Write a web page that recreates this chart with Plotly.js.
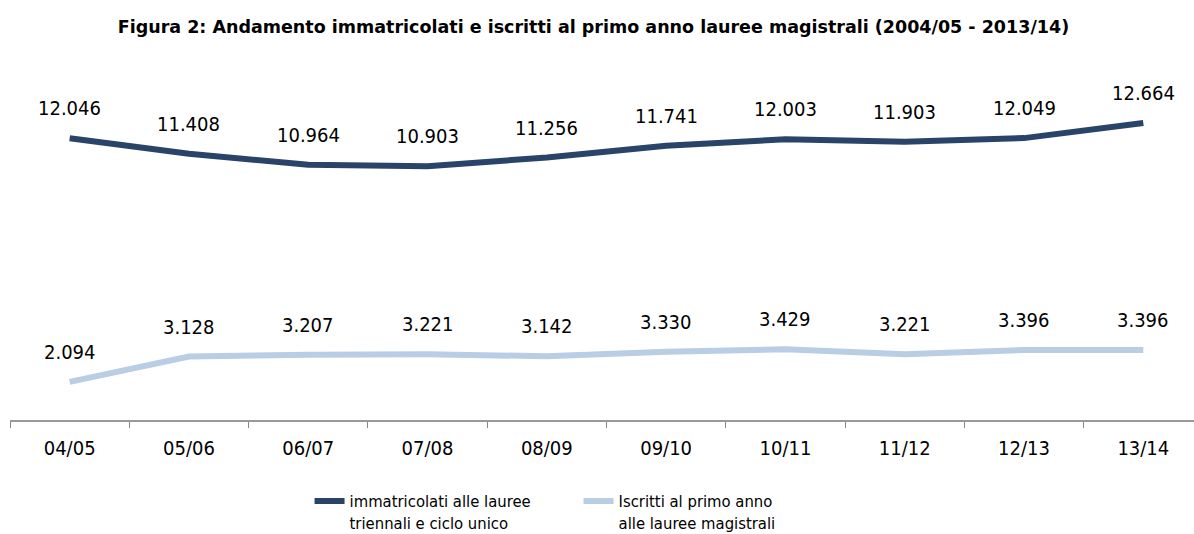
<!DOCTYPE html>
<html>
<head>
<meta charset="utf-8">
<script src="https://cdn.plot.ly/plotly-3.0.1.min.js"></script>
<style>html,body{margin:0;padding:0;background:#fff;}#chart{width:1194px;height:534px;}</style>
</head>
<body>
<div id="chart"></div>
<script>
var categories = ["04/05","05/06","06/07","07/08","08/09","09/10","10/11","11/12","12/13","13/14"];
var immatricolati = [12046,11408,10964,10903,11256,11741,12003,11903,12049,12664];
var iscritti = [2094,3128,3207,3221,3142,3330,3429,3221,3396,3396];
var seriesNames = ["immatricolati alle lauree<br>triennali e ciclo unico","Iscritti al primo anno<br>alle lauree magistrali"];
var titleText = "Figura 2: Andamento immatricolati e iscritti al primo anno lauree magistrali (2004/05 - 2013/14)";

var FONT = "DejaVu Sans Condensed, DejaVu Sans, sans-serif";
function fmt(v){ return String(v).replace(/\B(?=(\d{3})+(?!\d))/g, "."); }

var traces = [
  {x: categories, y: immatricolati, type: "scatter", mode: "lines", name: seriesNames[0],
   line: {color: "#294468", width: 6}},
  {x: categories, y: iscritti, type: "scatter", mode: "lines", name: seriesNames[1],
   line: {color: "#b9cde5", width: 6}}
];

var annotations = [];
[immatricolati, iscritti].forEach(function(arr){
  arr.forEach(function(v, i){
    annotations.push({x: categories[i], y: v, xref: "x", yref: "y", text: fmt(v),
      showarrow: false, yshift: 30, font: {family: FONT, size: 20, color: "#000"}});
  });
});

var layout = {
  width: 1194, height: 534,
  margin: {l: 10, r: 0, t: 60, b: 114, autoexpand: false},
  paper_bgcolor: "#fff", plot_bgcolor: "#fff",
  title: {text: "<b>" + titleText + "</b>", x: 0.497, xanchor: "center", y: 0.95, yanchor: "middle", yref: "container",
          font: {family: "DejaVu Sans, sans-serif", size: 17.5, color: "#000"}},
  xaxis: {type: "category", range: [-0.5, 9.425], tickson: "boundaries", ticks: "outside", ticklen: 6,
          tickcolor: "#888", showline: true, linecolor: "#999", linewidth: 1.5, showgrid: false, zeroline: false,
          ticklabelstandoff: 9,
          tickfont: {family: FONT, size: 20, color: "#000"}, fixedrange: true},
  yaxis: {range: [539, 15239], visible: false, showgrid: false, zeroline: false},
  showlegend: true,
  legend: {orientation: "h", x: 0.253, xanchor: "left", yref: "container", y: 0.094, yanchor: "top", valign: "top",
           entrywidth: 224, font: {family: FONT, size: 16.5, color: "#000"}, traceorder: "normal"},
  annotations: annotations
};

Plotly.newPlot("chart", traces, layout, {displayModeBar: false, staticPlot: true});
</script>
</body>
</html>
